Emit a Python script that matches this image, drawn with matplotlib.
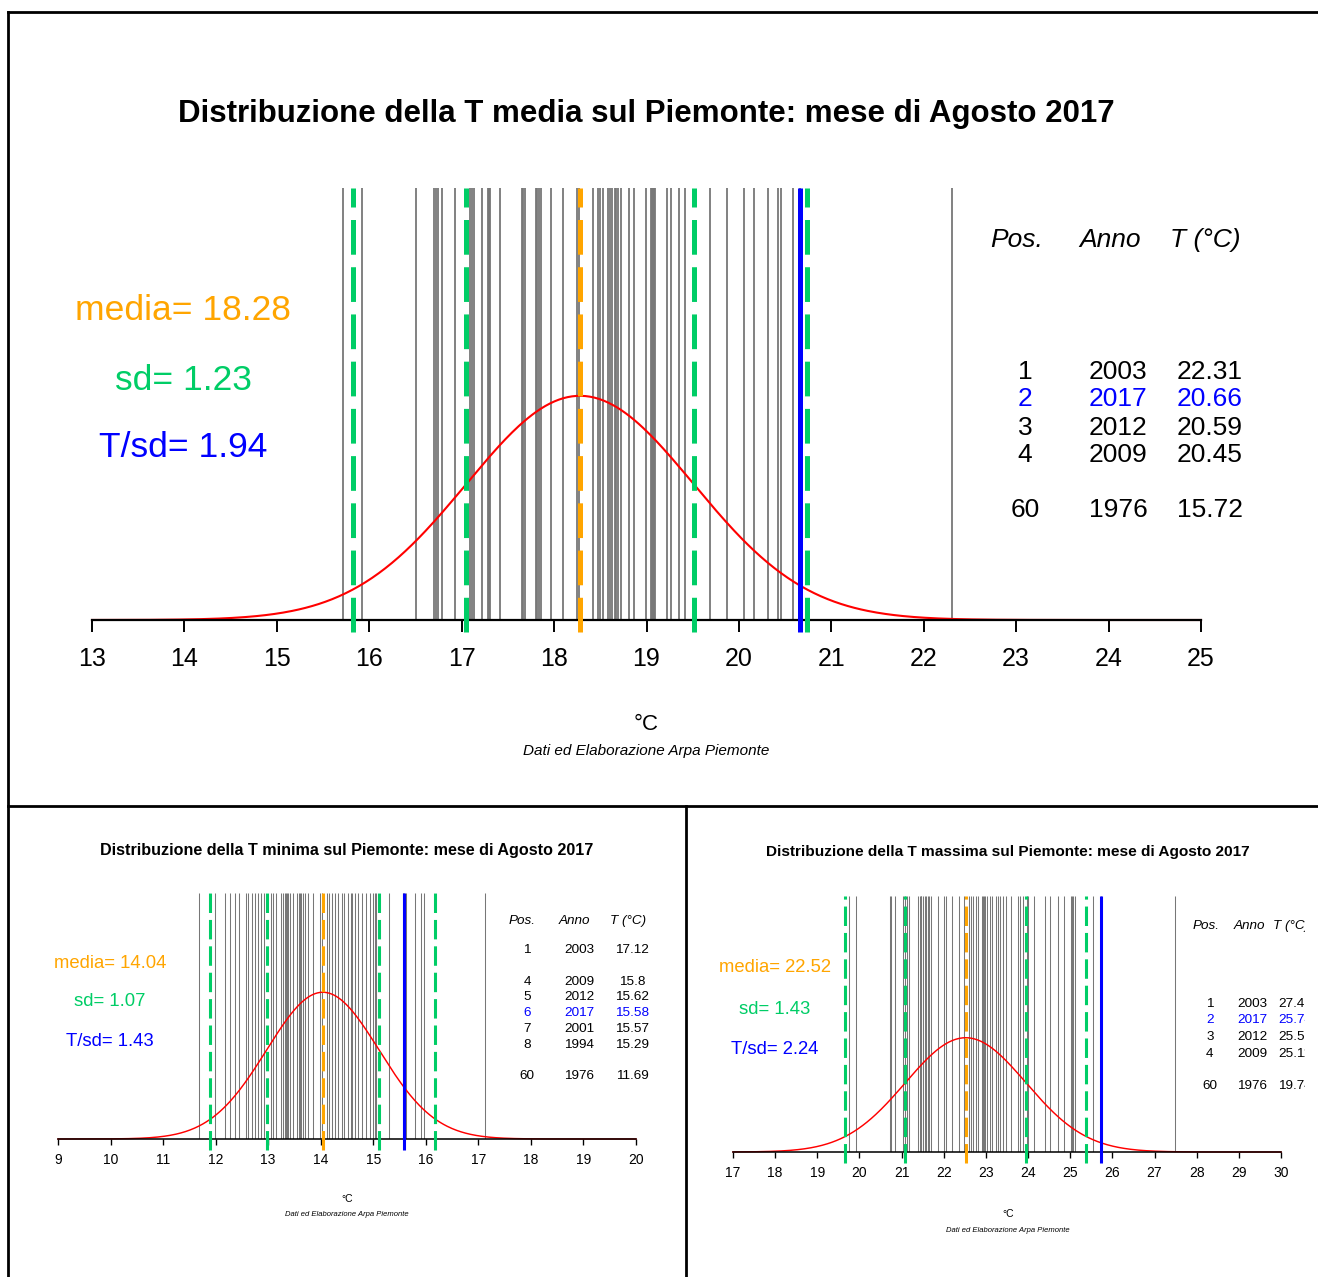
import numpy as np
import matplotlib
matplotlib.use("Agg")
import matplotlib.pyplot as plt
from matplotlib.patches import Rectangle

plt.rcParams['font.family'] = ['Liberation Sans', 'DejaVu Sans']
plt.rcParams['lines.scale_dashes'] = False

# ---- T media agosto (60 anni) ----
tmed_values = [15.72, 15.92, 16.51, 16.70, 16.72, 16.74, 16.79, 16.93, 17.09, 17.11,
               17.13, 17.22, 17.28, 17.30, 17.31, 17.42, 17.65, 17.66, 17.68, 17.80,
               17.82, 17.84, 17.86, 17.97, 18.10, 18.25, 18.27, 18.42, 18.48, 18.50,
               18.53, 18.58, 18.60, 18.63, 18.66, 18.67, 18.69, 18.72, 18.81, 18.86,
               18.99, 19.05, 19.06, 19.07, 19.08, 19.09, 19.22, 19.26, 19.35, 19.42,
               19.69, 19.87, 20.05, 20.16, 20.31, 20.42, 20.45, 20.59, 20.66, 22.31]
tmed_media = 18.28
tmed_sd = 1.23
tmed_tsd = 1.94
tmed_2017 = 20.66
tmed_ticks = list(range(13, 26))
tmed_pos = ["1", "2", "3", "4", "60"]
tmed_anno = ["2003", "2017", "2012", "2009", "1976"]
tmed_temp = ["22.31", "20.66", "20.59", "20.45", "15.72"]

# ---- T minima agosto ----
tmin_values = [11.69, 11.99, 12.18, 12.28, 12.37, 12.45, 12.58, 12.62, 12.70, 12.75,
               12.80, 12.87, 12.92, 13.06, 13.10, 13.15, 13.25, 13.29, 13.32, 13.33,
               13.35, 13.38, 13.41, 13.47, 13.55, 13.58, 13.60, 13.62, 13.67, 13.71,
               13.75, 13.85, 13.98, 14.02, 14.11, 14.15, 14.21, 14.28, 14.32, 14.40,
               14.45, 14.52, 14.57, 14.60, 14.65, 14.70, 14.78, 14.86, 14.93, 15.00,
               15.03, 15.05, 15.29, 15.57, 15.58, 15.62, 15.80, 15.91, 15.96, 17.12]
tmin_media = 14.04
tmin_sd = 1.07
tmin_tsd = 1.43
tmin_2017 = 15.58
tmin_ticks = list(range(9, 21))
tmin_pos = ["1", "4", "5", "6", "7", "8", "60"]
tmin_anno = ["2003", "2009", "2012", "2017", "2001", "1994", "1976"]
tmin_temp = ["17.12", "15.8", "15.62", "15.58", "15.57", "15.29", "11.69"]

# ---- T massima agosto ----
tmax_values = [19.74, 19.92, 20.73, 20.76, 20.84, 21.04, 21.08, 21.12, 21.18, 21.40,
               21.43, 21.45, 21.47, 21.50, 21.55, 21.58, 21.62, 21.65, 21.70, 21.87,
               22.01, 22.05, 22.20, 22.35, 22.48, 22.60, 22.64, 22.70, 22.76, 22.81,
               22.90, 22.93, 22.95, 22.98, 23.02, 23.10, 23.15, 23.23, 23.29, 23.33,
               23.40, 23.47, 23.59, 23.76, 23.82, 23.88, 23.98, 24.00, 24.15, 24.41,
               24.51, 24.71, 24.86, 25.03, 25.05, 25.07, 25.11, 25.55, 25.74, 27.49]
tmax_media = 22.52
tmax_sd = 1.43
tmax_tsd = 2.24
tmax_2017 = 25.74
tmax_ticks = list(range(17, 31))
tmax_pos = ["1", "2", "3", "4", "60"]
tmax_anno = ["2003", "2017", "2012", "2009", "1976"]
tmax_temp = ["27.49", "25.74", "25.55", "25.11", "19.74"]

ORANGE = "#FFA500"
GREEN = "#00CD66"
BLUE = "#0000FF"
GRAY = "#777777"

W, H = 1318, 1277
fig = plt.figure(figsize=(W / 100, H / 100), dpi=100)


def put(x, y, s, **kw):
    ha = kw.pop("ha", "center")
    va = kw.pop("va", "center")
    return fig.text(x / W, 1 - y / H, s, ha=ha, va=va, **kw)


def pannello(vals, media, sd, tsd, t2017, ticks, pos, anni, temps, tipo, L, s):
    # L = layout in pixel, s = scala font/linee
    x0, x1, ytop, yax = L["axis"]
    ax = fig.add_axes([x0 / W, 1 - yax / H, (x1 - x0) / W, (yax - ytop) / H])
    ytop_d = 0.625
    ax.set_xlim(ticks[0], ticks[-1])
    ax.set_ylim(0, ytop_d)
    for sp in ["top", "left", "right"]:
        ax.spines[sp].set_visible(False)
    ax.spines["bottom"].set_linewidth(1.6 * s["lw"])
    ax.set_yticks([])
    ax.set_xticks(ticks)
    ax.tick_params(axis="x", direction="out", length=s["tick_len"], width=1.4 * s["lw"],
                   pad=s["tick_pad"], labelsize=s["tick_fs"])
    ax.patch.set_alpha(0)

    ax.vlines(vals, 0, ytop_d, color=GRAY, lw=s["gray_lw"], zorder=1)

    xx = np.linspace(ticks[0], ticks[-1], 500)
    dens = np.exp(-0.5 * ((xx - media) / sd) ** 2) / (sd * np.sqrt(2 * np.pi))
    ax.plot(xx, dens, color="red", lw=1.5 * s["lw"], zorder=2, clip_on=False)

    ext = -L["ext"] / (yax - ytop) * ytop_d
    for k in [-2, -1, 1, 2]:
        ax.plot([media + k * sd] * 2, [ext, ytop_d], color=GREEN, lw=s["col_lw"],
                dashes=s["dash"], zorder=3, clip_on=False)
    ax.plot([media] * 2, [ext, ytop_d], color=ORANGE, lw=s["col_lw"],
            dashes=s["dash"], zorder=3, clip_on=False)
    ax.plot([t2017] * 2, [ext, ytop_d], color=BLUE, lw=s["col_lw"], zorder=4,
            solid_capstyle="butt", clip_on=False)

    tx, ty = L["title"]
    put(tx, ty, "Distribuzione della T %s sul Piemonte: mese di Agosto 2017" % tipo,
        fontsize=L.get("title_fs", s["title_fs"]), fontweight="bold")

    sx = L["stats_x"]
    sy = L["stats_y"]
    put(sx, sy[0], "media= %.2f" % media, color=ORANGE, fontsize=s["stats_fs"])
    put(sx, sy[1], "sd= %.2f" % sd, color=GREEN, fontsize=s["stats_fs"])
    put(sx, sy[2], "T/sd= %.2f" % tsd, color=BLUE, fontsize=s["stats_fs"])

    hx = L["head_x"]
    for x, lab in zip(hx, ["Pos.", "Anno", "T (°C)"]):
        put(x, L["head_y"], lab, fontsize=s["tab_fs"], style="italic")
    cx = L["col_x"]
    for y, p, a, t in zip(L["rows_y"], pos, anni, temps):
        c = BLUE if a == "2017" else "black"
        put(cx[0], y, p, fontsize=s["tab_fs"], color=c)
        put(cx[1], y, a, fontsize=s["tab_fs"], color=c)
        put(cx[2], y, t, fontsize=s["tab_fs"], color=c)

    ux, uy = L["unit"]
    put(ux, uy, "°C", fontsize=s["unit_fs"])
    put(ux, uy + L["credit_dy"], "Dati ed Elaborazione Arpa Piemonte",
        fontsize=s["credit_fs"], style="italic")
    return ax


big = dict(lw=1.0, gray_lw=1.3, tick_len=8.6, tick_pad=11, tick_fs=18, col_lw=3.6,
           dash=(25, 9), title_fs=22.5, stats_fs=25.5, tab_fs=19, unit_fs=16,
           credit_fs=11)
small = dict(lw=0.7, gray_lw=0.75, tick_len=4, tick_pad=6, tick_fs=10, col_lw=2.2,
             dash=(14, 5), title_fs=11.6, stats_fs=13.3, tab_fs=9.7, unit_fs=7.5,
             credit_fs=5.5)

pannello(tmed_values, tmed_media, tmed_sd, tmed_tsd, tmed_2017, tmed_ticks,
         tmed_pos, tmed_anno, tmed_temp, "media",
         dict(axis=(92, 1201, 188, 620), ext=12, title=(646, 114), stats_x=183,
              stats_y=[310, 380, 448], head_x=[1017, 1110, 1205], head_y=240,
              col_x=[1025, 1118, 1210], rows_y=[372, 399, 428, 455, 510],
              unit=(646, 724), credit_dy=27), big)

pannello(tmin_values, tmin_media, tmin_sd, tmin_tsd, tmin_2017, tmin_ticks,
         tmin_pos, tmin_anno, tmin_temp, "minima",
         dict(axis=(58, 636, 893, 1139), ext=11, title=(347, 850), stats_x=110,
              stats_y=[963, 1002, 1041], head_x=[522, 574, 628], head_y=921,
              col_x=[527, 579, 632], rows_y=[950, 982, 997, 1013, 1029, 1045, 1076],
              unit=(347, 1199), credit_dy=16), small)

pannello(tmax_values, tmax_media, tmax_sd, tmax_tsd, tmax_2017, tmax_ticks,
         tmax_pos, tmax_anno, tmax_temp, "massima",
         dict(axis=(733, 1281, 896, 1152), ext=11, title=(1008, 852), title_fs=11.1,
              stats_x=775, stats_y=[968, 1009, 1050], head_x=[1206, 1249, 1291],
              head_y=926, col_x=[1210, 1252, 1295],
              rows_y=[1004, 1020, 1037, 1054, 1086],
              unit=(1008, 1214), credit_dy=16), small)

# il pannello destro in basso e' tagliato sul bordo
fig.add_artist(Rectangle((1305 / W, 0), 13 / W, 1 - 808 / H, transform=fig.transFigure,
                         facecolor="white", edgecolor="none", zorder=20))

# cornici
frame = dict(color="black", lw=2, transform=fig.transFigure, zorder=21)
fig.add_artist(plt.Line2D([8 / W, 1], [1 - 12 / H] * 2, **frame))
fig.add_artist(plt.Line2D([8 / W] * 2, [0, 1 - 12 / H], **frame))
fig.add_artist(plt.Line2D([8 / W, 1], [1 - 806 / H] * 2, **frame))
fig.add_artist(plt.Line2D([686 / W] * 2, [0, 1 - 806 / H], **frame))

fig.savefig("out.png", dpi=100)
